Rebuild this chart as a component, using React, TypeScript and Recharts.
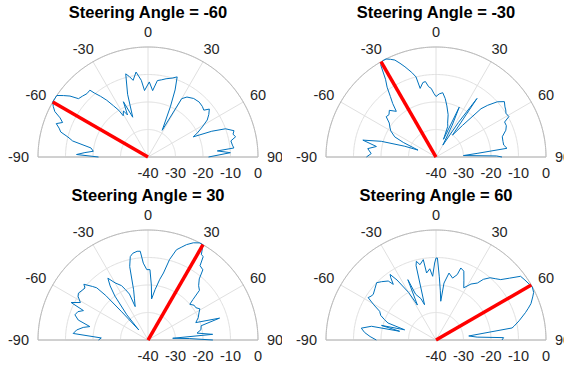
import { PolarAngleAxis, PolarGrid, PolarRadiusAxis, Radar, RadarChart } from "recharts";

const steeringAngles = [-60, -30, 30, 60];
const thetaTicks = [-90, -60, -30, 0, 30, 60, 90];

// array pattern, steering -60
const anglesM60 = [-90, -88, -86, -84, -81, -78, -76, -74, -72, -70, -68, -66, -64, -62, -60, -58, -56, -54, -52, -50, -47, -44, -41, -40, -38, -36, -34, -32, -31, -28, -26, -24, -21, -18, -15, -13, -11, -8, -5, -3, 1, 4, 7, 10, 13, 17, 20, 22, 24, 28, 30, 33, 38, 43, 47, 50, 52, 55, 58, 61, 64, 66, 68, 70, 73, 75, 77, 79, 82, 84, 85, 87, 90];
const gainM60 = [-22, -14, -17, -20, -19, -12, -10, -7, -6, -4.5, -6.5, -5, -2.3, -1, 0, 0, 0, -2, -4, -7, -7.5, -8, -7.8, -9.6, -12, -14.5, -17.5, -20, -22.5, -21, -23, -18, -24.5, -16, -8.7, -10, -11.6, -8.8, -12, -15.8, -12.7, -15.8, -12, -11.5, -10.8, -10, -9, -13.7, -20, -29, -15.5, -14, -13, -12.7, -13, -13.5, -11.7, -13, -14.6, -17.4, -20, -22, -15, -10, -7.3, -8, -7.3, -9.3, -9, -8.6, -14.7, -10, -18];

// steering -30
const anglesM30 = [-90, -87, -83, -80, -77, -74, -71, -69, -66, -64, -60, -57, -54, -51, -48, -45, -41, -39, -37, -35, -33, -31, -29, -27, -25, -23, -21, -19, -16, -14, -13, -10, -8, -6, -4, -2, 0, 3, 6, 9, 12, 16, 19, 21, 23, 25, 27, 30, 33, 35, 37, 40, 43, 45, 48, 51, 54, 56, 58, 61, 63, 66, 69, 73, 77, 80, 83, 85, 87, 89, 90];
const gainM30 = [-14.7, -16.4, -15, -18, -12.7, -19.3, -28, -33, -27, -23.3, -21, -20, -19, -16.7, -17, -16, -18, -15, -12.4, -9, -6.3, -1, 0, 0, -0.8, -1.7, -3.5, -5.3, -8, -10, -14.4, -12.5, -12.3, -14.3, -15, -16.8, -18, -17, -16.5, -18.5, -21, -24, -27, -28, -33, -20, -27, -35, -25, -14, -30, -25, -16, -13.4, -10, -8, -9, -9.4, -10, -9.7, -12, -12, -12.8, -14.8, -15, -15, -14, -25, -30, -18, -16];

// steering 30
const anglesP30 = [-90, -87.5, -85, -82, -79, -77, -74, -71, -68, -65.5, -64, -61, -58, -56, -53, -50.5, -49, -46, -44.5, -43.5, -43, -42.5, -40, -37, -35, -33, -30, -26, -24, -22, -21, -18, -16, -14, -12, -10, -7, -5, -3.5, -1, 1.6, 3.5, 5, 8, 11, 13, 15, 17.5, 20, 22, 25, 28, 30, 32, 33.5, 35, 38, 40, 43, 46, 48, 49.5, 53, 56, 59, 62, 66, 70, 73, 75, 79, 82, 85, 86, 88, 90];
const gainP30 = [-22, -23, -12.7, -13.8, -16, -18.3, -13.6, -11.9, -12.5, -14.2, -8.9, -11.9, -10, -9.5, -10, -10.3, -9.1, -12, -13.4, -17.7, -26, -35, -28, -20, -16, -13.2, -16, -18, -20, -22, -27, -24, -21, -12.5, -9, -8, -7.5, -7.6, -12, -14.4, -14.4, -20, -25, -21.5, -17.5, -15, -9.7, -5.6, -4, -2.6, -1, 0, 0, -3.4, -3.6, -7, -7.6, -11, -13, -14, -18, -20, -19, -19, -18, -19, -20, -21.5, -12.8, -20, -20.4, -22, -16.4, -31, -25, -16.4];

// steering 60
const anglesP60 = [-90, -87, -84, -81, -78, -76.5, -75, -72, -70.5, -68.5, -66, -63, -60.5, -58, -56, -54, -50, -46, -43, -39, -37.5, -36, -35, -33, -30, -28, -25, -24, -20, -18, -15, -14, -12, -9, -8, -5, -3, -1, 0, 1, 3, 5, 7, 8, 11, 15, 18, 19, 22, 25, 28, 32, 36, 38, 41, 44, 47, 50, 53, 56, 59, 61, 64, 66, 69, 71, 73, 77, 80, 81, 83, 86, 88, 90];
const gainP60 = [-18.3, -16, -13.9, -12.5, -16, -26.4, -19.5, -28, -21.5, -19.9, -18, -17, -14, -10.9, -11.5, -11.8, -11, -10, -11, -12.4, -14.5, -12, -10.9, -14, -20, -25.6, -15.8, -21.8, -24, -26.5, -12, -10.5, -12, -10.4, -15.4, -14, -16.8, -12, -10.2, -10.2, -17, -22, -25.8, -19.1, -15.2, -16.7, -15, -12.3, -13, -16, -18.5, -16, -14.4, -12, -10, -9, -7.8, -5, -1.5, -1, -0.5, 0, -0.5, -1.5, -3, -4.5, -6, -9, -11.2, -12, -28, -25, -15.4, -16];

const patterns = [
  { angles: anglesM60, gains: gainM60 },
  { angles: anglesM30, gains: gainM30 },
  { angles: anglesP30, gains: gainP30 },
  { angles: anglesP60, gains: gainP60 },
];

const FONT = "'Liberation Sans', Arial, Helvetica, sans-serif";
const TEXT = "#262626";
const W = 282;
const H = 183;
const R = 110;

// outline of the half circle for the grid rings
const arcAngles = Array.from({ length: 181 }, (_, i) => 180 - i);

const makeRows = (angles: number[], gains: number[], steer: number) => [
  ...angles.map((a, i) => ({ angle: a, gain: gains[i] })),
  { angle: steer, steer: -40 },
  { angle: steer, steer: 0 },
];

function PatternLine(props: any) {
  const pts = (props.points ?? []).filter((p: any) => p.payload && p.payload.gain != null);
  const d = pts.map((p: any, i: number) => `${i ? "L" : "M"}${p.x},${p.y}`).join(" ");
  return <path d={d} fill="none" stroke="#0072BD" strokeWidth={1} strokeLinejoin="round" />;
}

function SteerLine(props: any) {
  const pts = (props.points ?? []).filter((p: any) => p.payload && p.payload.steer != null);
  if (pts.length < 2) return null;
  return <line x1={pts[0].x} y1={pts[0].y} x2={pts[1].x} y2={pts[1].y} stroke="#FF0000" strokeWidth={3.5} />;
}

function ThetaTick(props: any) {
  const { x, y, payload } = props;
  const label = String(payload.value);
  const a = (payload.coordinate * Math.PI) / 180;
  const digits = label.replace("-", "").length;
  const w = digits * 8.06 + (label.startsWith("-") ? 4.83 : 0);
  return (
    <text x={x + (Math.cos(a) * w) / 2} y={y - Math.sin(a) * 6} dy="0.35em" textAnchor="middle" fontFamily={FONT} fontSize={14.5} fill={TEXT}>
      {label}
    </text>
  );
}

function GainTick(props: any) {
  const { x, y, payload } = props;
  return (
    <text x={x} y={y + 21} textAnchor="middle" fontFamily={FONT} fontSize={14.5} fill={TEXT}>
      {payload.value}
    </text>
  );
}

function Panel({ idx }: { idx: number }) {
  const steer = steeringAngles[idx];
  const { angles, gains } = patterns[idx];
  const data = makeRows(angles, gains, steer);
  const col = idx % 2;
  const row = Math.floor(idx / 2);
  const cx = col === 0 ? 148 : 154;
  return (
    <div style={{ position: "absolute", left: col * W, top: row * H, width: W, height: H }}>
      <RadarChart
        width={W}
        height={H}
        data={data}
        cx={cx}
        cy={157}
        innerRadius={0}
        outerRadius={R}
        startAngle={180}
        endAngle={0}
        margin={{ top: 0, right: 0, bottom: 0, left: 0 }}
      >
        <PolarGrid gridType="polygon" polarAngles={arcAngles} radialLines={false} stroke="#e0e0e0" />
        <PolarGrid gridType="polygon" polarRadius={[]} radialLines stroke="#e0e0e0" />
        <PolarGrid gridType="polygon" polarAngles={arcAngles} polarRadius={[R]} radialLines={false} stroke="#bababa" />
        <PolarAngleAxis
          dataKey="angle"
          type="number"
          domain={[-90, 90]}
          ticks={thetaTicks}
          tickCount={7}
          axisLine={false}
          tickLine={false}
          tickSize={9}
          tick={ThetaTick}
        />
        <PolarRadiusAxis angle={0} type="number" domain={[-40, 0]} tickCount={5} axisLine={false} tickLine={false} tick={GainTick} />
        <Radar dataKey="gain" isAnimationActive={false} shape={PatternLine} />
        <Radar dataKey="steer" isAnimationActive={false} shape={SteerLine} />
      </RadarChart>
      <svg width={W} height={H} style={{ position: "absolute", left: 0, top: 0, pointerEvents: "none" }}>
        <text x={cx} y={18} textAnchor="middle" fontFamily={FONT} fontSize={16.5} fontWeight="bold" fill="#000">
          {`Steering Angle = ${steer}`}
        </text>
      </svg>
    </div>
  );
}

export default function App() {
  return (
    <div style={{ position: "absolute", left: 0, top: 0, width: 564, height: 367, background: "#fff", overflow: "hidden" }}>
      {steeringAngles.map((_, i) => (
        <Panel key={i} idx={i} />
      ))}
    </div>
  );
}
